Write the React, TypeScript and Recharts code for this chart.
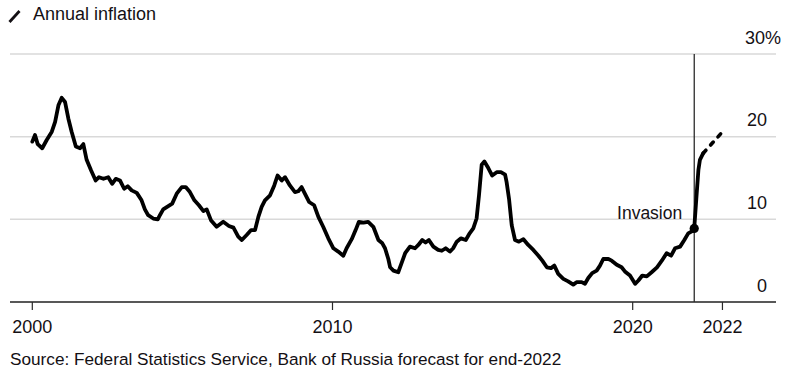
import React from "react";
import {
  LineChart,
  Line,
  XAxis,
  YAxis,
  CartesianGrid,
  ReferenceLine,
  ReferenceDot,
} from "recharts";

// Decimal-year positions and annual inflation (%)
const actualYears = [
  2000.0, 2000.09, 2000.18, 2000.33, 2000.48, 2000.65, 2000.76, 2000.87, 2000.98, 2001.09,
  2001.2, 2001.31, 2001.45, 2001.59, 2001.7, 2001.81, 2001.96, 2002.11, 2002.22, 2002.37,
  2002.53, 2002.66, 2002.78, 2002.92, 2003.06, 2003.18, 2003.31, 2003.48, 2003.64, 2003.75,
  2003.86, 2004.03, 2004.18, 2004.25, 2004.36, 2004.53, 2004.66, 2004.81, 2004.98, 2005.11,
  2005.25, 2005.4, 2005.55, 2005.7, 2005.81, 2005.95, 2006.14, 2006.36, 2006.55, 2006.7,
  2006.86, 2006.98, 2007.14, 2007.29, 2007.42, 2007.53, 2007.64, 2007.75, 2007.92, 2008.06,
  2008.17, 2008.31, 2008.42, 2008.58, 2008.75, 2008.86, 2008.97, 2009.08, 2009.22, 2009.39,
  2009.53, 2009.69, 2009.86, 2010.03, 2010.19, 2010.36, 2010.47, 2010.64, 2010.77, 2010.88,
  2011.03, 2011.19, 2011.36, 2011.53, 2011.66, 2011.75, 2011.86, 2011.92, 2012.03, 2012.19,
  2012.31, 2012.42, 2012.58, 2012.75, 2012.86, 2012.99, 2013.1, 2013.21, 2013.36, 2013.52,
  2013.64, 2013.77, 2013.91, 2014.02, 2014.14, 2014.28, 2014.44, 2014.55, 2014.69, 2014.8,
  2014.88, 2014.97, 2015.06, 2015.19, 2015.32, 2015.47, 2015.61, 2015.75, 2015.8, 2015.88,
  2015.97, 2016.08, 2016.21, 2016.36, 2016.52, 2016.69, 2016.86, 2016.99, 2017.14, 2017.28,
  2017.39, 2017.52, 2017.69, 2017.85, 2018.02, 2018.13, 2018.3, 2018.41, 2018.52, 2018.65,
  2018.8, 2018.91, 2019.02, 2019.19, 2019.3, 2019.47, 2019.63, 2019.74, 2019.91, 2020.08,
  2020.19, 2020.32, 2020.47, 2020.63, 2020.81, 2020.97, 2021.13, 2021.28, 2021.41, 2021.58,
  2021.72, 2021.85, 2022.0, 2022.05, 2022.12, 2022.19, 2022.24, 2022.35,
];
const actualValues = [
  19.4, 20.2, 19.1, 18.6, 19.6, 20.6, 21.8, 23.8, 24.7, 24.2,
  22.2, 20.6, 18.8, 18.6, 19.1, 17.2, 15.9, 14.7, 15.1, 14.9,
  15.1, 14.3, 14.9, 14.7, 13.7, 14.0, 13.5, 13.2, 12.3, 11.2,
  10.5, 10.1, 10.0, 10.5, 11.2, 11.6, 11.9, 13.1, 13.9, 13.9,
  13.3, 12.3, 11.7, 11.0, 11.2, 9.9, 9.1, 9.7, 9.2, 9.0,
  7.9, 7.5, 8.1, 8.7, 8.7, 10.3, 11.5, 12.3, 12.9, 14.1,
  15.3, 14.7, 15.1, 14.1, 13.3, 13.4, 13.9, 13.1, 12.1, 11.7,
  10.3, 9.1, 7.7, 6.5, 6.1, 5.6, 6.5, 7.6, 8.7, 9.7,
  9.6, 9.7, 9.1, 7.5, 7.1, 6.5, 5.2, 4.2, 3.8, 3.6,
  4.8, 5.9, 6.7, 6.5, 6.9, 7.5, 7.2, 7.5, 6.7, 6.3,
  6.2, 6.5, 6.1, 6.5, 7.3, 7.7, 7.5, 8.2, 8.9, 10.1,
  12.9, 16.6, 17.0, 16.2, 15.3, 15.7, 15.7, 15.4, 14.5, 12.5,
  9.3, 7.5, 7.3, 7.6, 6.9, 6.3, 5.6, 5.0, 4.2, 4.1,
  4.4, 3.4, 2.8, 2.5, 2.1, 2.4, 2.4, 2.2, 2.9, 3.5,
  3.8, 4.4, 5.2, 5.2, 5.0, 4.5, 4.2, 3.7, 3.2, 2.2,
  2.6, 3.2, 3.1, 3.6, 4.2, 5.0, 5.9, 5.6, 6.5, 6.7,
  7.5, 8.3, 8.6, 8.9, 12.5, 16.0, 17.2, 18.0,
];
const forecastYears = [2022.35, 2022.97];
const forecastValues = [18.0, 20.5];

const invasionYear = 2022.05;
const invasionValue = 8.9;
const invasionLabel = "Invasion";

const xTicks = [2000, 2010, 2020, 2022.99];
const xTickLabels = ["2000", "2010", "2020", "2022"];
const yTicks = [0, 10, 20, 30];

const titleText = "Annual inflation";
const sourceText =
  "Source: Federal Statistics Service, Bank of Russia forecast for end-2022";

const actualData = actualYears.map((t, i) => ({ t, v: actualValues[i] }));
const forecastData = forecastYears.map((t, i) => ({ t, v: forecastValues[i] }));

const FONT = "'Liberation Sans', Arial, Helvetica, sans-serif";
const INK = "#141014";

const XTick = (props: any) => {
  const { x, y, payload } = props;
  const idx = xTicks.indexOf(payload.value);
  return (
    <text
      x={x}
      y={y + 21}
      textAnchor="middle"
      fontFamily={FONT}
      fontSize={18}
      fill={INK}
    >
      {idx >= 0 ? xTickLabels[idx] : ""}
    </text>
  );
};

const YTick = (props: any) => {
  const { y, payload } = props;
  const isTop = payload.value === 30;
  return (
    <g>
      <text
        x={isTop ? 765 : 767}
        y={y - 10.5}
        textAnchor="end"
        fontFamily={FONT}
        fontSize={18}
        fill={INK}
      >
        {payload.value}
      </text>
      {isTop ? (
        <text
          x={765}
          y={y - 10.5}
          textAnchor="start"
          fontFamily={FONT}
          fontSize={18}
          fill={INK}
        >
          %
        </text>
      ) : null}
    </g>
  );
};

const InvasionLabel = (props: any) => {
  const { viewBox } = props;
  return (
    <text
      x={viewBox.x - 12}
      y={219}
      textAnchor="end"
      fontFamily={FONT}
      fontSize={17.5}
      fill={INK}
    >
      {invasionLabel}
    </text>
  );
};

export default function App() {
  return (
    <div
      style={{
        position: "absolute",
        left: 0,
        top: 0,
        width: 790,
        height: 375,
        background: "#fff",
        fontFamily: FONT,
      }}
    >
      <svg
        width={30}
        height={30}
        style={{ position: "absolute", left: 0, top: 0 }}
      >
        <line
          x1={9.5}
          y1={22}
          x2={19.5}
          y2={11}
          stroke={INK}
          strokeWidth={2.8}
        />
      </svg>
      <div
        style={{
          position: "absolute",
          left: 33,
          top: 4,
          fontSize: 18,
          lineHeight: "20px",
          color: INK,
          whiteSpace: "nowrap",
        }}
      >
        {titleText}
      </div>
      <div style={{ position: "absolute", left: 0, top: 0 }}>
        <LineChart
          width={790}
          height={375}
          margin={{ top: 54, right: 0, bottom: 43, left: 10 }}
        >
          <CartesianGrid
            horizontal={true}
            vertical={false}
            stroke="#d9d9d9"
            strokeWidth={1.5}
          />
          <XAxis
            type="number"
            dataKey="t"
            domain={[1999.257, 2024.774]}
            ticks={xTicks}
            interval={0}
            allowDataOverflow
            height={30}
            axisLine={{ stroke: "#2a2a2a", strokeWidth: 1.5 }}
            tickLine={{ stroke: "#2a2a2a", strokeWidth: 1.2 }}
            tickSize={8}
            tick={<XTick />}
          />
          <YAxis
            type="number"
            orientation="right"
            domain={[0, 30]}
            ticks={yTicks}
            width={14}
            axisLine={false}
            tickLine={false}
            tick={<YTick />}
          />
          <ReferenceLine
            x={invasionYear}
            stroke="#1a1a1a"
            strokeWidth={1.2}
            label={<InvasionLabel />}
          />
          <Line
            data={actualData}
            dataKey="v"
            type="linear"
            stroke="#000"
            strokeWidth={3.8}
            strokeLinejoin="round"
            strokeLinecap="round"
            dot={false}
            activeDot={false}
            isAnimationActive={false}
          />
          <Line
            data={forecastData}
            dataKey="v"
            type="linear"
            stroke="#000"
            strokeWidth={3.6}
            strokeDasharray="4 7"
            strokeLinecap="round"
            dot={false}
            activeDot={false}
            isAnimationActive={false}
          />
          <ReferenceDot
            x={invasionYear}
            y={invasionValue}
            r={4.6}
            fill="#000"
            stroke="none"
          />
        </LineChart>
      </div>
      <div
        style={{
          position: "absolute",
          left: 10,
          top: 349,
          fontSize: 17.2,
          lineHeight: "20px",
          color: INK,
          whiteSpace: "nowrap",
        }}
      >
        {sourceText}
      </div>
    </div>
  );
}
